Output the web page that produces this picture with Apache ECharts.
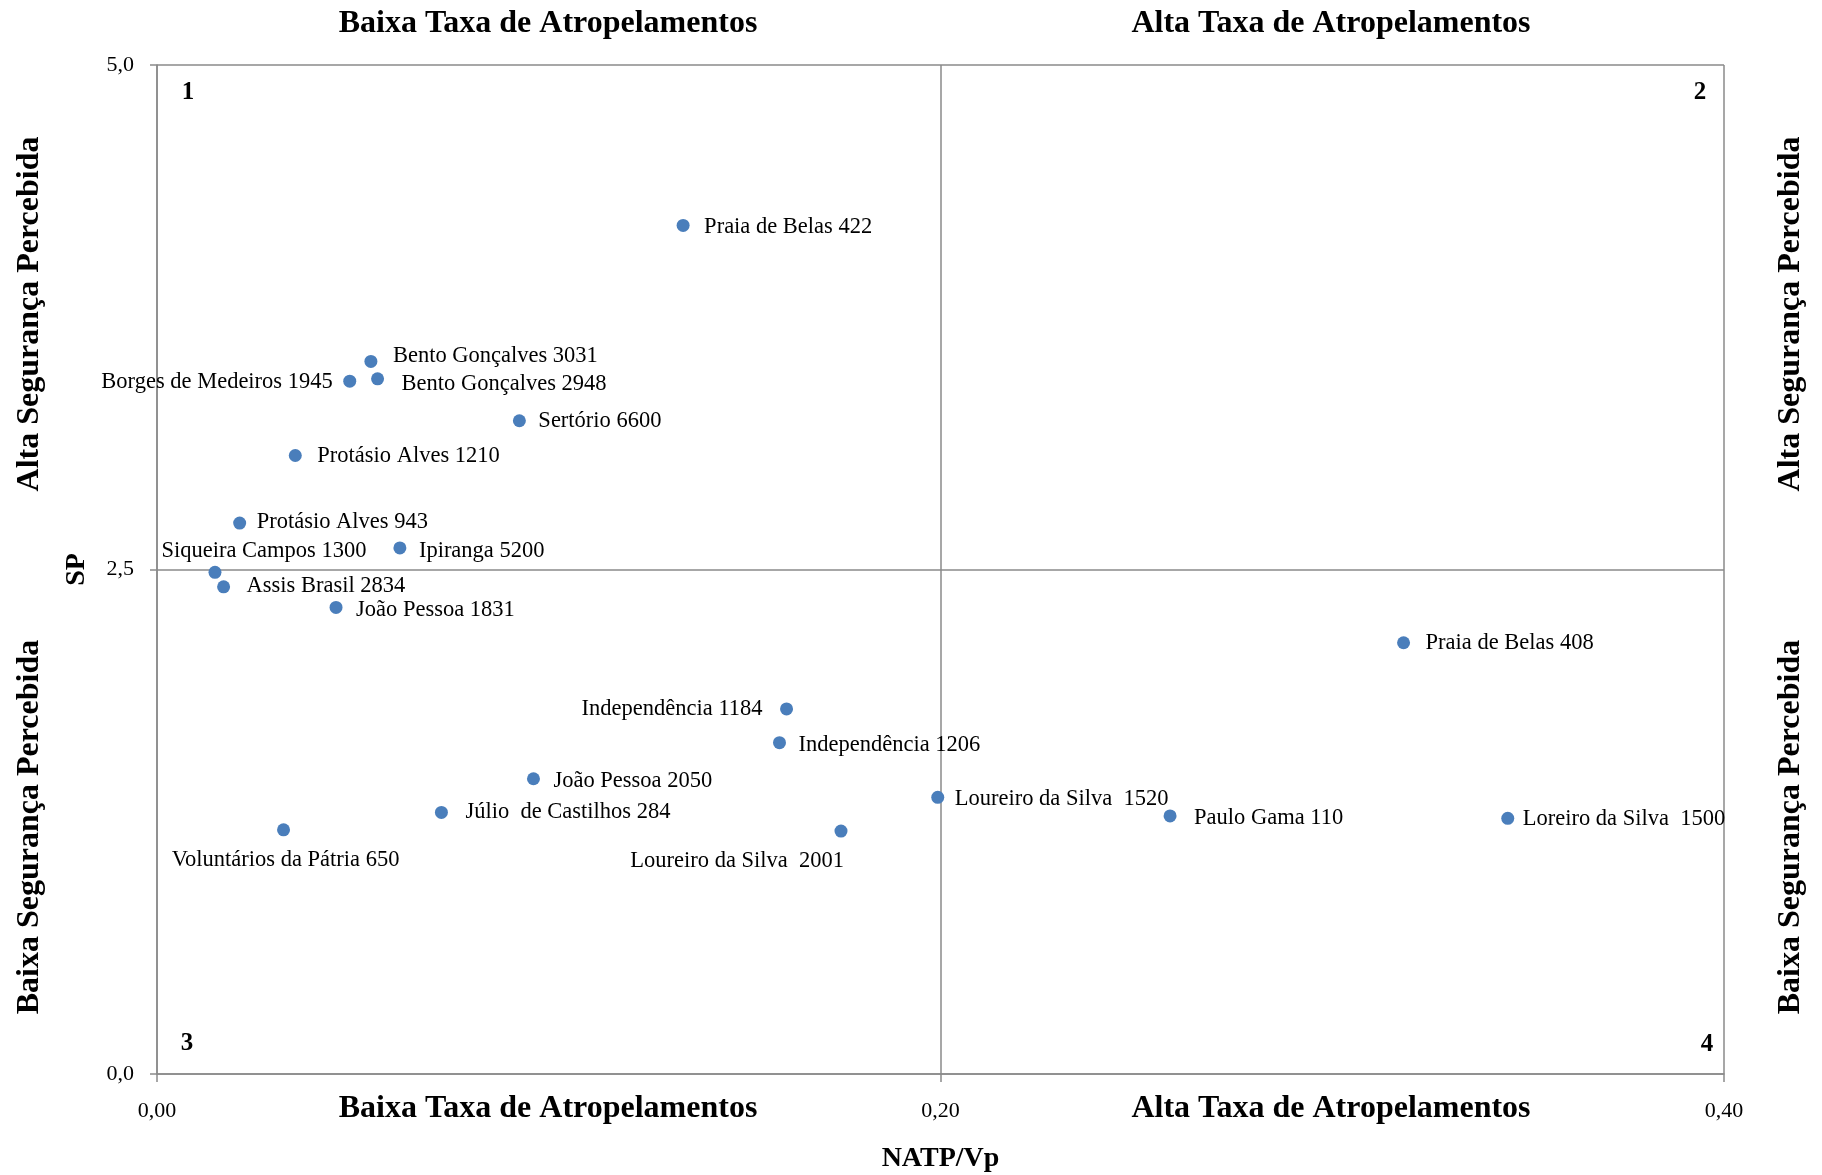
<!DOCTYPE html>
<html>
<head>
<meta charset="utf-8">
<title>SP x NATP/Vp</title>
<script src="https://cdn.jsdelivr.net/npm/echarts@6/dist/echarts.min.js"></script>
<style>
  html, body { margin: 0; padding: 0; background: #fff; }
  #chart { width: 1822px; height: 1175px; }
</style>
</head>
<body>
<div id="chart"></div>
<script>
// dados
const names = [
  'Praia de Belas 422', 'Bento Gonçalves 3031', 'Borges de Medeiros 1945', 'Bento Gonçalves 2948',
  'Sertório 6600', 'Protásio Alves 1210', 'Protásio Alves 943', 'Ipiranga 5200',
  'Siqueira Campos 1300', 'Assis Brasil 2834', 'João Pessoa 1831', 'Independência 1184',
  'Independência 1206', 'João Pessoa 2050', 'Júlio  de Castilhos 284', 'Voluntários da Pátria 650',
  'Loureiro da Silva  2001', 'Loureiro da Silva  1520', 'Paulo Gama 110', 'Praia de Belas 408',
  'Loreiro da Silva  1500'
];
const natp = [
  0.1343, 0.0546, 0.0492, 0.0563,
  0.0925, 0.0353, 0.0211, 0.0620,
  0.0148, 0.0170, 0.0457, 0.1607,
  0.1589, 0.0961, 0.0726, 0.0323,
  0.1746, 0.1993, 0.2586, 0.3182,
  0.3448
];
const sp = [
  4.205, 3.531, 3.433, 3.445,
  3.237, 3.065, 2.730, 2.607,
  2.486, 2.414, 2.312, 1.809,
  1.642, 1.463, 1.296, 1.210,
  1.204, 1.371, 1.279, 2.137,
  1.267
];
const xTicks = [0, 0.2, 0.4];
const yTicks = [0, 2.5, 5];

// posição dos rótulos (alinhamento, deslocamento em px a partir do ponto)
const labelPlace = {
  'Borges de Medeiros 1945': ['right', -17, 1],
  'Independência 1184': ['right', -24, 0],
  'Siqueira Campos 1300': ['center', 49, -21],
  'Voluntários da Pátria 650': ['center', 2, 30],
  'Loureiro da Silva  2001': ['right', 3, 30],
  'Praia de Belas 422': ['left', 21, 2],
  'Bento Gonçalves 3031': ['left', 22, -5],
  'Bento Gonçalves 2948': ['left', 24, 5],
  'Sertório 6600': ['left', 19, 0],
  'Protásio Alves 1210': ['left', 22, 1],
  'Protásio Alves 943': ['left', 17, -1],
  'Ipiranga 5200': ['left', 19, 3],
  'Assis Brasil 2834': ['left', 23, -1],
  'João Pessoa 1831': ['left', 20, 3],
  'Independência 1206': ['left', 19, 2],
  'João Pessoa 2050': ['left', 20, 2],
  'Júlio  de Castilhos 284': ['left', 24, 0],
  'Loureiro da Silva  1520': ['left', 17, 2],
  'Paulo Gama 110': ['left', 24, 2],
  'Praia de Belas 408': ['left', 22, 0],
  'Loreiro da Silva  1500': ['left', 15, 1]
};

const serif = '"Liberation Serif", "Times New Roman", serif';
const gray = '#8a8a8a';

const points = names.map((n, i) => {
  const p = labelPlace[n] || ['left', 20, 0];
  return {
    name: n,
    value: [natp[i], sp[i]],
    label: { align: p[0], offset: [p[1], p[2]] }
  };
});

const chart = echarts.init(document.getElementById('chart'));

const quadTitle = (text, x, y, rot) => ({
  type: 'text',
  x: x,
  y: y,
  rotation: rot || 0,
  style: {
    text: text,
    font: 'bold 32px ' + serif,
    fill: '#000',
    align: 'center',
    verticalAlign: 'middle'
  }
});
const quadNum = (text, x, y) => ({
  type: 'text',
  x: x,
  y: y,
  style: {
    text: text,
    font: 'bold 25px ' + serif,
    fill: '#000',
    align: 'center',
    verticalAlign: 'middle'
  }
});

const option = {
  backgroundColor: '#fff',
  animation: false,
  grid: { left: 157, right: 98, top: 65, bottom: 101, containLabel: false, outerBoundsMode: 'none' },
  xAxis: {
    type: 'value',
    min: xTicks[0],
    max: xTicks[xTicks.length - 1],
    interval: xTicks[1] - xTicks[0],
    name: 'NATP/Vp',
    nameLocation: 'middle',
    nameGap: 85,
    nameTextStyle: { fontFamily: serif, fontWeight: 'bold', fontSize: 28, color: '#000', verticalAlign: 'middle' },
    axisLine: { show: true, lineStyle: { color: gray, width: 1.5 } },
    axisTick: { show: true, length: 8, lineStyle: { color: gray, width: 1.5 } },
    splitLine: { show: true, lineStyle: { color: gray, width: 1.5 } },
    axisLabel: {
      margin: 26,
      fontFamily: serif,
      fontSize: 22,
      color: '#000',
      formatter: v => v.toFixed(2).replace('.', ',')
    }
  },
  yAxis: {
    type: 'value',
    min: yTicks[0],
    max: yTicks[yTicks.length - 1],
    interval: yTicks[1] - yTicks[0],
    name: 'SP',
    nameLocation: 'middle',
    nameRotate: 90,
    nameGap: 80,
    nameTextStyle: { fontFamily: serif, fontWeight: 'bold', fontSize: 28, color: '#000', verticalAlign: 'middle' },
    axisLine: { show: true, lineStyle: { color: gray, width: 1.5 } },
    axisTick: { show: true, length: 7, lineStyle: { color: gray, width: 1.5 } },
    splitLine: { show: true, lineStyle: { color: gray, width: 1.5 } },
    axisLabel: {
      margin: 23,
      fontFamily: serif,
      fontSize: 22,
      color: '#000',
      formatter: v => v.toFixed(1).replace('.', ',')
    }
  },
  series: [{
    type: 'scatter',
    symbol: 'circle',
    symbolSize: 13,
    itemStyle: { color: '#4A7EBB', opacity: 1 },
    label: {
      show: true,
      position: 'inside',
      formatter: '{b}',
      fontFamily: serif,
      fontSize: 22.5,
      color: '#000',
      verticalAlign: 'middle'
    },
    emphasis: { disabled: true },
    data: points
  }],
  graphic: [
    quadTitle('Baixa Taxa de Atropelamentos', 548, 24),
    quadTitle('Alta Taxa de Atropelamentos', 1331, 24),
    quadTitle('Baixa Taxa de Atropelamentos', 548, 1109),
    quadTitle('Alta Taxa de Atropelamentos', 1331, 1109),
    quadTitle('Alta Segurança Percebida', 30, 314, Math.PI / 2),
    quadTitle('Baixa Segurança Percebida', 30, 827, Math.PI / 2),
    quadTitle('Alta Segurança Percebida', 1791, 314, Math.PI / 2),
    quadTitle('Baixa Segurança Percebida', 1791, 827, Math.PI / 2),
    quadNum('1', 188, 93),
    quadNum('2', 1700, 93),
    quadNum('3', 187, 1044),
    quadNum('4', 1707, 1045)
  ]
};

chart.setOption(option);
</script>
</body>
</html>
